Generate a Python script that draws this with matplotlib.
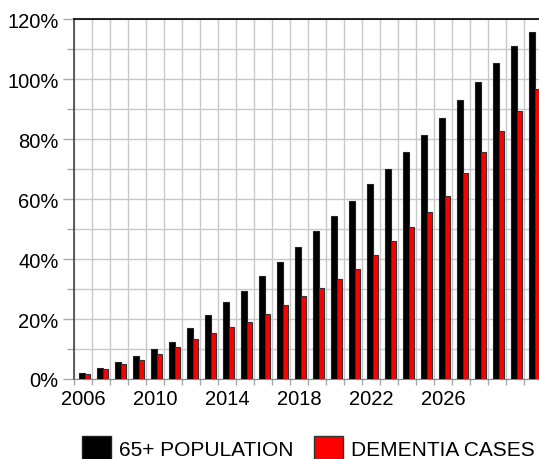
import matplotlib
matplotlib.use("Agg")
import matplotlib.pyplot as plt
import numpy as np
from matplotlib.patches import Patch
from matplotlib.ticker import FixedLocator, FuncFormatter

plt.rcParams['font.family'] = ['Liberation Sans', 'DejaVu Sans']

years = list(range(2006, 2032))
population_65 = [2.0, 3.6, 5.7, 7.7, 10.0, 12.3, 17.1, 21.4, 25.6, 29.3, 34.3, 39.0, 44.1,
                 49.2, 54.4, 59.4, 65.0, 70.1, 75.7, 81.2, 87.0, 93.0, 99.1, 105.3, 111.0, 115.8]
dementia_cases = [1.7, 3.3, 5.0, 6.3, 8.4, 10.6, 13.3, 15.3, 17.3, 19.0, 21.6, 24.8, 27.7,
                  30.2, 33.2, 36.6, 41.4, 46.0, 50.6, 55.8, 61.0, 68.7, 75.8, 82.8, 89.3, 96.7]
year_labels = ["2006", "2010", "2014", "2018", "2022", "2026"]

fig = plt.figure(figsize=(5.39, 4.6), dpi=100)
# axes extends a little past the right edge, as in the reference
ax = fig.add_axes([74 / 539, 80 / 460, 468 / 539, 360 / 460])

x = np.arange(len(years))
ax.bar(x - 0.055, population_65, width=0.33, color="black", edgecolor="#222222",
       linewidth=0.8, zorder=3)
ax.bar(x + 0.25, dementia_cases, width=0.28, color="#ff0000", edgecolor="#333333",
       linewidth=0.8, zorder=3)

ax.set_xlim(-0.5, len(years) - 0.5)
ax.set_ylim(0, 120)

# grid: one vertical line per year band, horizontal every 10%
ax.xaxis.set_major_locator(FixedLocator(np.arange(-0.5, len(years), 1)))
ax.xaxis.set_major_formatter(FuncFormatter(lambda v, p: ""))
lab_pos = [years.index(int(y)) for y in year_labels]
ax.xaxis.set_minor_locator(FixedLocator(lab_pos))
ax.set_xticklabels(year_labels, minor=True)
ax.tick_params(axis="x", which="major", length=4, color="#aaaaaa", width=1)
ax.tick_params(axis="x", which="minor", length=0, labelsize=14.5, pad=7, labelcolor="black")

ax.yaxis.set_major_locator(FixedLocator(np.arange(0, 121, 20)))
ax.yaxis.set_minor_locator(FixedLocator(np.arange(10, 120, 20)))
ax.yaxis.set_major_formatter(FuncFormatter(lambda v, p: f"{int(v)}%"))
ax.tick_params(axis="y", which="major", length=8, color="#aaaaaa", width=1,
               labelsize=14.5, pad=3)
ax.tick_params(axis="y", which="minor", length=5, color="#aaaaaa", width=1)

ax.grid(True, which="major", axis="x", color="#c8c8c8", linewidth=1, zorder=0)
ax.grid(True, which="both", axis="y", color="#c8c8c8", linewidth=1, zorder=0)

ax.spines["top"].set_color("black")
ax.spines["top"].set_linewidth(1.2)
ax.spines["left"].set_color("#444444")
ax.spines["left"].set_linewidth(1.2)
ax.spines["bottom"].set_color("#888888")
ax.spines["right"].set_visible(False)

handles = [Patch(facecolor="black", edgecolor="#222222", label="65+ POPULATION"),
           Patch(facecolor="#ff0000", edgecolor="#333333", label="DEMENTIA CASES")]
fig.legend(handles=handles, loc="lower center", bbox_to_anchor=(0.572, -0.045), ncol=2,
           frameon=False, fontsize=15, handlelength=1.4, handleheight=1.5,
           handletextpad=0.35, columnspacing=1.0)

fig.savefig("out.png", dpi=100)
